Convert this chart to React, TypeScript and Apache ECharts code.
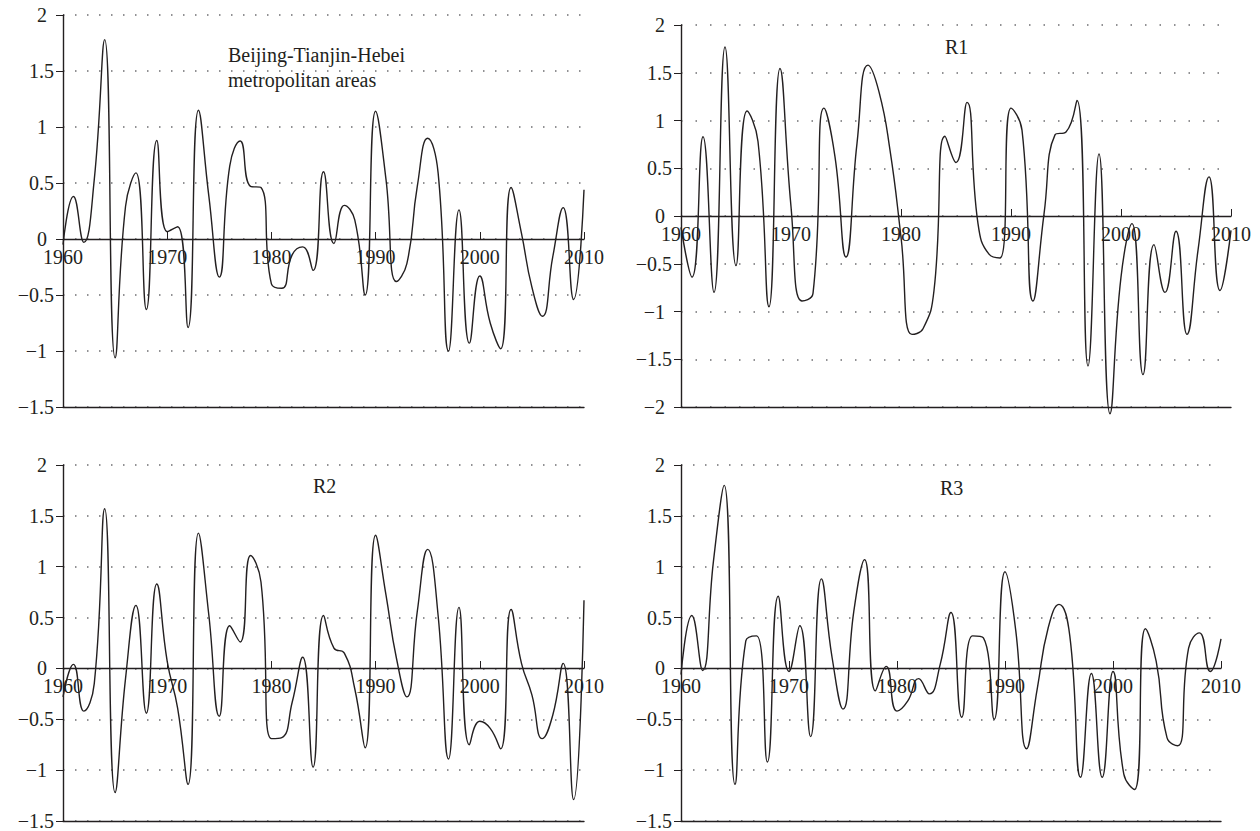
import React, { useEffect, useRef } from "react";
import * as echarts from "echarts";

const years = [
  1960, 1961, 1962, 1963, 1964, 1965, 1966, 1967, 1968, 1969,
  1970, 1971, 1972, 1973, 1974, 1975, 1976, 1977, 1978, 1979,
  1980, 1981, 1982, 1983, 1984, 1985, 1986, 1987, 1988, 1989,
  1990, 1991, 1992, 1993, 1994, 1995, 1996, 1997, 1998, 1999,
  2000, 2001, 2002, 2003, 2004, 2005, 2006, 2007, 2008, 2009, 2010,
];

const bthValues = [
  -0.05, 0.38, -0.03, 0.53, 1.78, -1.06, 0.29, 0.59, -0.63, 0.88,
  0.065, 0.11, -0.79, 1.15, 0.38, -0.34, 0.65, 0.875, 0.47, 0.46,
  -0.4, -0.44, -0.14, -0.07, -0.28, 0.6, -0.04, 0.3, 0.17, -0.5,
  1.14, 0.53, -0.38, -0.22, 0.47, 0.9, 0.59, -1.0, 0.26, -0.93,
  -0.33, -0.75, -0.98, 0.46, 0.05, -0.43, -0.69, -0.16, 0.28, -0.54, 0.44,
];

const r1Values = [
  -0.12, -0.64, 0.83, -0.8, 1.77, -0.52, 1.1, 0.78, -0.95, 1.545,
  0.1, -0.89, -0.81, 1.13, 0.62, -0.43, 0.76, 1.58, 1.3, 0.69,
  -0.22, -1.24, -1.18, -0.78, 0.835, 0.56, 1.19, -0.08, -0.4, -0.44,
  1.13, 0.9, -0.89, 0.02, 0.85, 0.88, 1.21, -1.57, 0.65, -2.07,
  -0.64, -0.08, -1.66, -0.3, -0.8, -0.16, -1.24, -0.36, 0.41, -0.78, -0.15,
];

const r2Values = [
  -0.28, 0.04, -0.42, -0.15, 1.57, -1.22, -0.1, 0.62, -0.44, 0.83,
  0.07, -0.39, -1.14, 1.33, 0.52, -0.47, 0.42, 0.26, 1.11, 0.85,
  -0.69, -0.68, -0.33, 0.11, -0.97, 0.52, 0.2, 0.15, -0.2, -0.78,
  1.31, 0.72, 0.1, -0.28, 0.56, 1.17, 0.52, -0.89, 0.6, -0.75,
  -0.52, -0.59, -0.79, 0.58, 0.05, -0.26, -0.69, -0.46, 0.05, -1.29, 0.67,
];

const r3Values = [
  -0.06, 0.52, -0.02, 1.05, 1.8, -1.14, 0.27, 0.32, -0.92, 0.71,
  -0.03, 0.42, -0.67, 0.88, 0.1, -0.4, 0.56, 1.07, -0.22, 0.02,
  -0.42, -0.32, -0.1, -0.25, 0.04, 0.55, -0.48, 0.32, 0.3, -0.5,
  0.95, 0.37, -0.79, -0.19, 0.4, 0.63, 0.32, -1.07, -0.05, -1.07,
  -0.03, -1.04, -1.19, 0.39, 0.07, -0.68, -0.76, 0.2, 0.35, -0.03, 0.29,
];

const panelTitles = ["Beijing-Tianjin-Hebei\nmetropolitan areas", "R1", "R2", "R3"];
const panelSeries = [bthValues, r1Values, r2Values, r3Values];
const yMins = [-1.5, -2, -1.5, -1.5];
const yMax = 2;
const yStep = 0.5;
const xMin = 1960;
const xMax = 2010;
const xStep = 10;

const FONT = "'Liberation Serif', 'Times New Roman', serif";
const INK = "#231f20";

const grids = [
  { left: 63, top: 15, width: 521, height: 392 },
  { left: 681, top: 25, width: 550, height: 382 },
  { left: 63, top: 465, width: 521, height: 357 },
  { left: 681, top: 465, width: 540, height: 357 },
];
const titlePos = [
  { left: 228, top: 42 },
  { left: 945, top: 34 },
  { left: 313, top: 473 },
  { left: 940, top: 475 },
];
const dotGap = [10.5, 13, 10.5, 10.5];

function fmtY(v: number) {
  const s = String(Math.abs(v));
  const txt = (v < 0 ? "\u2212" : "") + s;
  if (Number.isInteger(v)) return `{i|${txt}}{p| }`;
  return `{i|${txt}}`;
}

export default function App() {
  const ref = useRef<HTMLDivElement>(null);
  useEffect(() => {
    if (!ref.current) return;
    const chart = echarts.init(ref.current, undefined, { renderer: "svg" });
    const xAxis: any[] = [];
    const yAxis: any[] = [];
    const series: any[] = [];
    grids.forEach((rect, g) => {
      // pixel distance from the grid bottom up to the value 0 on the y scale
      const zeroLift = (rect.height * (0 - yMins[g])) / (yMax - yMins[g]);
      // solid bottom frame line
      xAxis.push({
        gridIndex: g,
        type: "value",
        min: xMin,
        max: xMax,
        position: "bottom",
        axisLine: { show: true, onZero: false, lineStyle: { color: INK, width: 1.4 } },
        axisTick: { show: false },
        axisLabel: { show: false },
        splitLine: { show: false },
      });
      // zero line with year labels
      xAxis.push({
        gridIndex: g,
        type: "value",
        min: xMin,
        max: xMax,
        interval: xStep,
        position: "bottom",
        offset: -zeroLift,
        axisLine: { show: true, onZero: false, lineStyle: { color: INK, width: 1.4 } },
        axisTick: { show: true, inside: true, length: 7, lineStyle: { color: INK, width: 1 } },
        axisLabel: {
          show: true,
          inside: false,
          margin: 8,
          color: INK,
          fontFamily: FONT,
          fontSize: 20,
          formatter: (v: number) => String(v),
        },
        splitLine: { show: false },
      });
      yAxis.push({
        gridIndex: g,
        type: "value",
        min: yMins[g],
        max: yMax,
        interval: yStep,
        axisLine: { show: true, onZero: false, lineStyle: { color: INK, width: 1.4 } },
        axisTick: { show: true, length: 7, lineStyle: { color: INK, width: 1 } },
        axisLabel: {
          show: true,
          margin: 9,
          color: INK,
          fontFamily: FONT,
          fontSize: 20,
          formatter: fmtY,
          rich: {
            i: { fontFamily: FONT, fontSize: 20, color: INK },
            p: { width: 7, fontFamily: FONT, fontSize: 20 },
          },
        },
        splitLine: {
          show: true,
          lineStyle: { color: "#6d6e71", width: 1.5, type: [1.5, dotGap[g]] },
        },
      });
      series.push({
        type: "line",
        xAxisIndex: 2 * g,
        yAxisIndex: g,
        data: years.map((yr, i) => [yr, panelSeries[g][i]]),
        smooth: true,
        symbol: "none",
        clip: false,
        lineStyle: { color: INK, width: 1.4 },
      });
    });
    chart.setOption({
      animation: false,
      backgroundColor: "#ffffff",
      title: panelTitles.map((t, g) => ({
        text: t,
        left: titlePos[g].left,
        top: titlePos[g].top,
        padding: 0,
        textStyle: {
          fontFamily: FONT,
          fontSize: 20,
          fontWeight: "normal",
          color: INK,
          lineHeight: 25,
        },
      })),
      grid: grids.map((r) => ({ ...r, containLabel: false })),
      xAxis,
      yAxis,
      series,
    });
    return () => chart.dispose();
  }, []);
  return (
    <div
      ref={ref}
      style={{ position: "fixed", left: 0, top: 0, width: 1260, height: 831, background: "#fff" }}
    />
  );
}
